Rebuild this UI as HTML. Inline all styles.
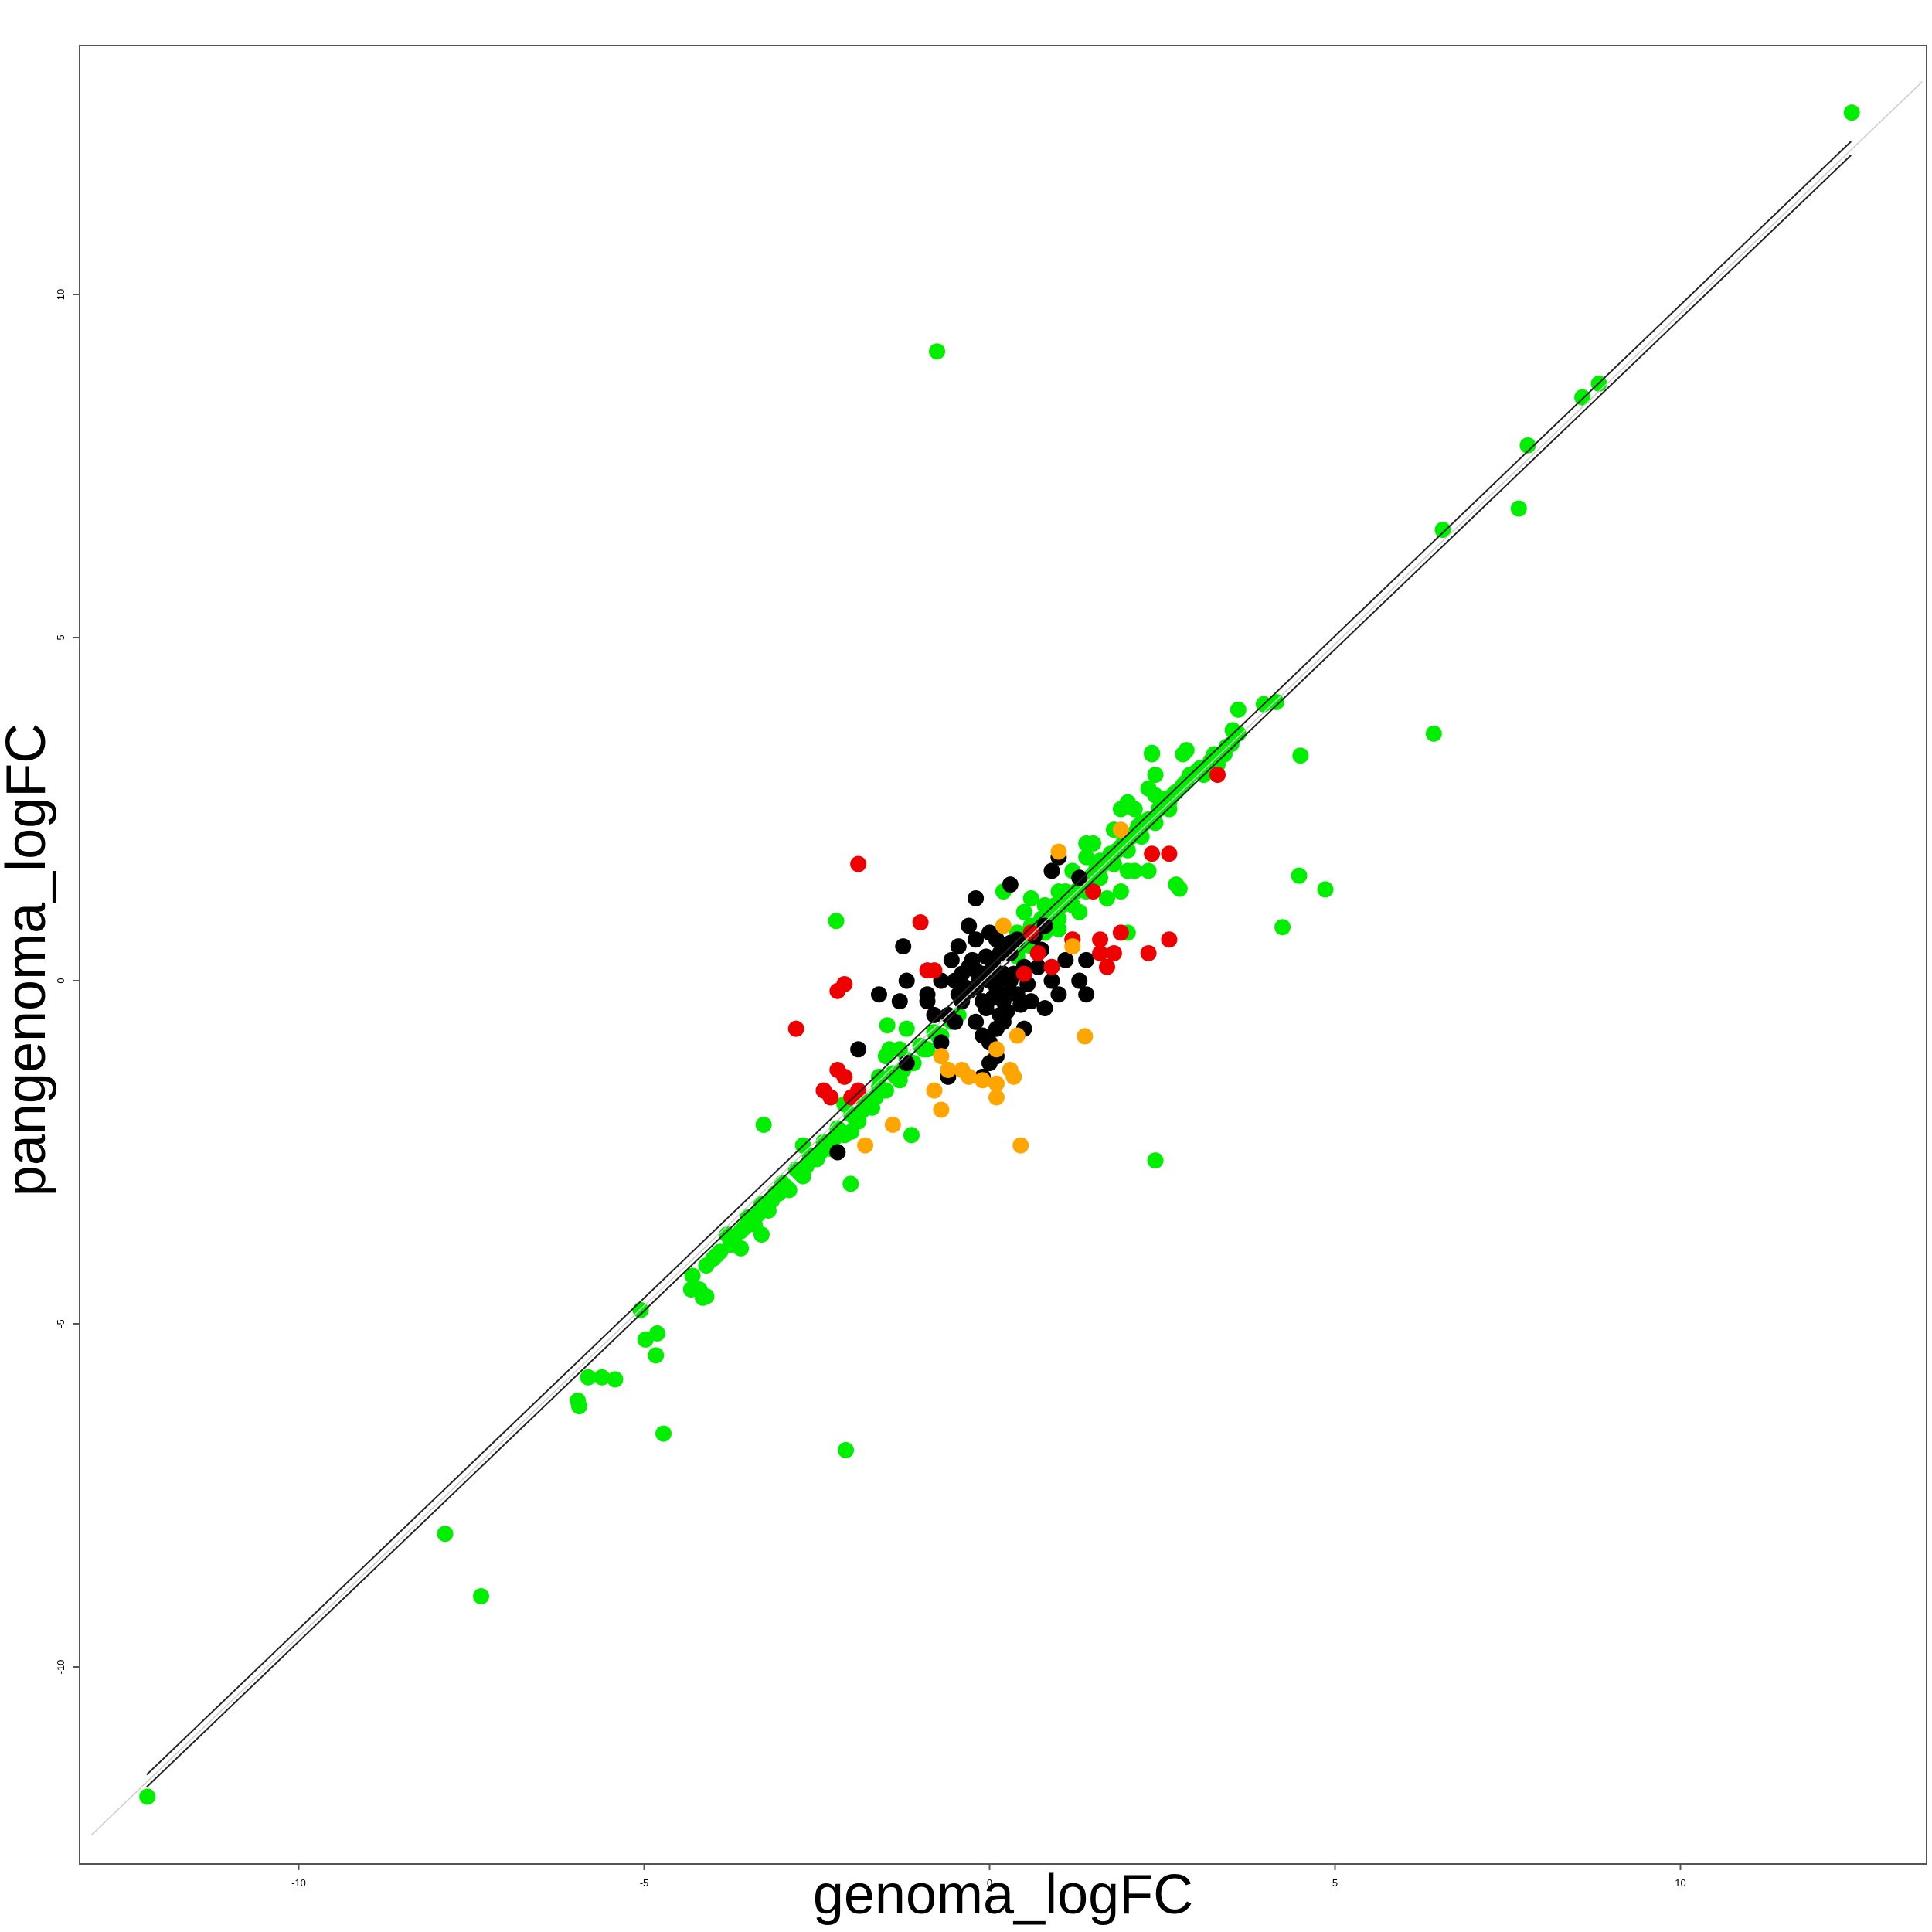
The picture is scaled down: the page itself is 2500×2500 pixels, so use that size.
<!DOCTYPE html>
<html><head><meta charset="utf-8"><style>
html,body{margin:0;padding:0;background:#fff;}
svg{display:block;font-family:"Liberation Sans",sans-serif;}
</style></head><body>
<svg id="chart" width="2500" height="2500" viewBox="0 0 2500 2500" xmlns="http://www.w3.org/2000/svg">
<rect x="0" y="0" width="2500" height="2500" fill="#fff"/>
<g id="points"></g>
<g id="lines"></g>
<rect x="103" y="59" width="2390" height="2353" fill="none" stroke="#555" stroke-width="2"/>
<g id="axes"></g>
<text x="1298" y="2476" font-size="72" text-anchor="middle">genoma_logFC</text>
<text x="0" y="0" font-size="72" text-anchor="middle" transform="translate(58,1242) rotate(-90)">pangenoma_logFC</text>
</svg>
<script>
const xTicks=[-10,-5,0,5,10];
const yTicks=[-10,-5,0,5,10];
const greenX=[12.48,-0.76,8.82,8.58,7.79,7.66,6.56,6.43,4.5,4.48,4.86,4.24,2.4,-2.08,-3.27,-2.01,-7.88,-7.36,-12.19,-4.72,-5.96,-5.94,-5.81,-5.61,-5.42,-4.83,-4.81,-4.98,-5.05,-4.32,-4.15,-2.22,-1.48,-1.13,3.6,3.97,4.15,3.52,3.43,2.85,2.35,2.75,
-4.3,-4.1,-4.0,-3.9,-3.8,-3.7,-3.6,-3.5,-3.4,-3.3,-3.2,-3.1,-3.0,-2.9,-2.8,-2.7,-2.6,-2.5,-2.4,-2.3,-2.2,-2.1,-2.0,-1.9,-1.8,-1.7,-1.6,-1.5,-1.4,-1.3,-1.2,-1.1,-1.0,-0.9,-0.8,-0.7,-1.5,-1.3,-2.1,-2.7,-3.6,-3.3,-4.2,-4.1,-2.0,-1.6,-1.45,-1.2,
0.4,0.5,0.6,0.7,0.8,0.9,1.0,1.1,1.2,1.3,1.4,1.5,1.6,1.7,1.8,1.9,2.0,2.1,2.2,2.3,2.4,2.5,2.6,2.7,2.8,3.0,3.2,3.4,3.5,3.6,0.5,0.6,0.8,1.0,1.2,1.4,1.5,1.8,1.9,2.0,2.1,2.3,2.4,2.35,2.4,2.8,2.9,1.7,1.9,2.1,2.3,2.7,2.0,2.0,1.3,1.0,0.6,0.4,0.3,0.2,1.4,
-3.95,-3.75,-3.55,-3.35,-3.15,-2.95,-2.75,-2.55,-2.35,-2.15,-1.95,-1.75,-1.55,-1.35,-1.15,-0.95,-0.75,-0.55,-0.45,-2.45,-2.25,-1.85,-1.65,-1.25,-3.05,-2.65,
0.45,0.65,0.85,1.05,1.25,1.45,1.65,1.85,2.05,2.25,2.45,2.65,2.85,3.05,3.25,1.15,1.35,1.55,1.75,1.95,2.15,2.55,0.95,0.75,0.55,0.35,3.1,3.3,2.6,2.2,1.6,1.1];
const greenY=[12.65,9.17,8.7,8.5,7.8,6.88,6.57,3.6,3.28,1.53,1.33,0.78,-2.62,-6.84,-2.1,-2.96,-8.06,-8.97,-11.89,-6.6,-6.12,-6.2,-5.78,-5.78,-5.81,-5.46,-5.14,-5.23,-4.8,-4.5,-4.62,0.87,-0.65,-2.25,3.95,4.03,4.06,3.65,3.41,3.36,3.32,1.34,
-4.3,-4.15,-4.05,-3.95,-3.7,-3.8,-3.65,-3.45,-3.55,-3.25,-3.35,-3.1,-2.95,-3.05,-2.75,-2.85,-2.55,-2.6,-2.35,-2.45,-2.15,-2.25,-1.95,-2.05,-1.75,-1.85,-1.55,-1.6,-1.35,-1.45,-1.15,-1.2,-0.95,-1.0,-0.75,-0.8,-1.1,-1.0,-1.8,-2.4,-3.9,-3.7,-4.5,-4.6,-2.2,-1.4,-1.0,-0.7,
0.35,0.55,0.5,0.75,0.7,0.95,0.9,1.15,1.1,1.35,1.3,1.55,1.5,1.75,1.7,1.95,1.9,2.15,2.1,2.35,2.3,2.55,2.6,2.75,2.85,3.05,3.2,3.3,3.45,3.6,1.0,1.2,1.1,1.3,1.6,1.8,2.0,2.2,2.5,2.6,2.5,2.8,2.7,3.3,3.0,3.3,3.0,1.2,1.3,1.6,1.6,1.4,0.7,1.6,1.0,0.75,0.8,0.7,0.5,1.3,2.0,
-4.0,-3.85,-3.6,-3.4,-3.2,-3.0,-2.8,-2.6,-2.4,-2.2,-2.0,-1.8,-1.6,-1.4,-1.2,-1.0,-0.8,-0.6,-0.5,-2.5,-2.3,-1.9,-1.7,-1.3,-3.1,-2.7,
0.5,0.7,0.9,1.1,1.3,1.5,1.7,1.9,2.1,2.3,2.5,2.7,2.9,3.1,3.3,1.25,1.45,1.65,1.85,2.05,2.25,2.65,1.1,0.9,0.7,0.45,3.0,3.15,2.5,2.3,1.75,1.3];
const blackX=[-0.1,0,0.1,0.2,-0.2,0.05,-0.3,0.3,-0.4,0.4,-0.5,0.5,-0.6,0.6,-0.2,0.15,0.0,0.1,-0.5,-0.8,-1.2,-1.3,-0.9,-1.6,-1.25,-0.45,-0.2,-0.2,0.3,0.9,1.0,0.8,1.2,1.4,1.3,1.4,1.1,0.7,0.5,0.8,1.0,1.3,-0.1,-0.6,-1.2,-1.9,-2.2,-0.3,0.0,0.3,-0.1,0.2,-0.4,0.4,0.65,-0.7,
-0.15,0.05,0.25,-0.35,0.35,-0.05,0.15,-0.25,0.1,-0.1,0.2,0.0,-0.3,0.3,-0.55,0.55,-0.7,0.75,0.9,-0.9,0.1,-0.05,0.25,0.45,-0.45,0.05,0.15,-0.2];
const blackY=[0.1,0,-0.1,0.1,-0.1,0.3,0.2,0.4,-0.3,-0.2,0.0,0.2,-0.5,-0.3,-0.6,-0.5,-0.9,-1.1,-0.6,-0.5,0.0,-0.3,-0.2,-0.2,0.5,0.5,0.6,1.2,1.4,1.6,1.8,0.8,0.6,0.3,0.0,-0.2,0.3,0.2,-0.7,-0.4,-0.2,1.5,-1.4,-1.4,-1.2,-1.0,-2.5,0.8,0.7,0.0,-0.3,-0.3,0.1,0.6,0.65,-0.9,
0.0,0.2,-0.2,-0.1,0.1,-0.4,0.4,0.3,-0.7,-0.8,-0.6,-1.2,-0.15,0.55,0.3,-0.05,0.0,0.45,0.0,-0.3,0.6,0.35,-0.45,-0.35,-0.2,-0.25,0.05,0.15];
const redX=[-1.9,-1.0,-2.8,-2.1,-2.2,-2.2,-2.1,-2.4,-2.3,-2.0,-1.9,-0.9,-0.8,0.5,0.7,0.9,1.2,1.6,1.8,1.9,1.7,2.35,2.6,2.6,2.3,1.5,1.6,3.3,0.6];
const redY=[1.7,0.85,-0.7,-0.05,-0.15,-1.3,-1.4,-1.6,-1.7,-1.7,-1.6,0.15,0.15,0.1,0.4,0.2,0.6,0.4,0.4,0.7,0.2,1.85,1.85,0.6,0.4,1.3,0.6,3.0,0.7];
const orangeX=[0.2,1.0,1.9,1.2,-0.4,0.1,-0.6,0.3,1.38,-0.3,-0.1,0.1,0.35,0.45,-0.7,-0.8,-1.4,-1.8,0.1,0.4,-0.7];
const orangeY=[0.8,1.88,2.2,0.5,-1.3,-1.0,-1.3,-1.3,-0.81,-1.4,-1.45,-1.5,-1.4,-2.4,-1.88,-1.6,-2.1,-2.4,-1.7,-0.8,-1.1];
const lineNames=['identity-line','fit-line-upper','fit-line-lower'];
const lineX0=[-13.0,-12.2,-12.2];
const lineY0=[-12.45,-11.57,-11.75];
const lineX1=[13.5,12.47,12.47];
const lineY1=[13.1,12.23,12.03];

const NS='http://www.w3.org/2000/svg';
const L=103,R=2493,T=59,B=2412;
function sx(v){return 1280.5+89.4*v;}
function sy(v){return 1269-88.8*v;}
function mk(tag,attrs,parent){const e=document.createElementNS(NS,tag);for(const k in attrs)e.setAttribute(k,attrs[k]);parent.appendChild(e);return e;}
const pts=document.getElementById('points');
function series(xs,ys,color,name){
  for(let i=0;i<xs.length;i++){
    const c=mk('circle',{cx:sx(xs[i]),cy:sy(ys[i]),r:10.5,fill:color},pts);
    
    
  }
}
series(greenX,greenY,'#00ee00','point-green');
series(blackX,blackY,'#000000','point-black');
series(redX,redY,'#ee0000','point-red');
series(orangeX,orangeY,'#ffa500','point-orange');
const lg=document.getElementById('lines');
for(let i=0;i<lineNames.length;i++){
  const ln=mk('line',{x1:sx(lineX0[i]),y1:sy(lineY0[i]),x2:sx(lineX1[i]),y2:sy(lineY1[i]),stroke:i===0?'#cccccc':'#222',"stroke-width":i===0?1.5:2},lg);
  
  
}
const cp=mk('clipPath',{id:'cp'},document.getElementById('chart'));
mk('rect',{x:L,y:T,width:R-L,height:B-T},cp);
lg.setAttribute('clip-path','url(#cp)');
const ax=document.getElementById('axes');
for(const t of xTicks){
  const tk=mk('line',{x1:sx(t),y1:B,x2:sx(t),y2:B+8,stroke:'#555','stroke-width':2},ax);
  
  
  const tx=mk('text',{x:sx(t),y:B+29,'font-size':13,'text-anchor':'middle'},ax);
  tx.textContent=t;
  
  
}
for(const t of yTicks){
  const tk=mk('line',{x1:L-8,y1:sy(t),x2:L,y2:sy(t),stroke:'#555','stroke-width':2},ax);
  
  
  const tx=mk('text',{x:0,y:0,'font-size':13,'text-anchor':'middle',transform:'translate('+(L-20)+','+sy(t)+') rotate(-90)'},ax);
  tx.textContent=t;
  
  
}
</script>
</body></html>
